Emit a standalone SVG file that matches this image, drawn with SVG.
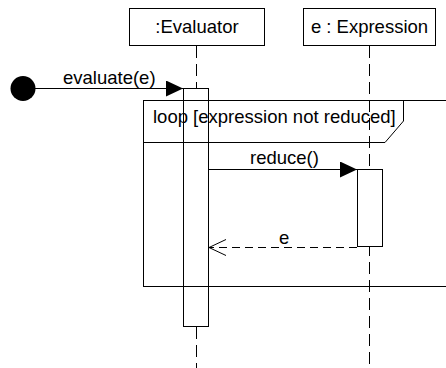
<svg xmlns="http://www.w3.org/2000/svg" width="446" height="368" viewBox="0 0 446 368">
<defs>
<style>
.box{fill:#fff;stroke:#000;stroke-width:1}
.act{fill:none;stroke:#000;stroke-width:1}
.txt{font-family:"Liberation Sans",Arial,sans-serif;font-size:18.5px;fill:#000}
.life{stroke:#000;stroke-width:1;stroke-dasharray:12,6;fill:none}
.msg{stroke:#000;stroke-width:1;fill:none}
.ret{stroke:#000;stroke-width:1;stroke-dasharray:8,5;fill:none}
</style>
<marker id="filled" markerWidth="18" markerHeight="16" refX="17" refY="8" orient="auto" markerUnits="userSpaceOnUse">
<path d="M0,0 L17,8 L0,16 Z" fill="#000"/>
</marker>
<marker id="open" markerWidth="20" markerHeight="20" refX="18" refY="9" orient="auto" markerUnits="userSpaceOnUse">
<path d="M1,1 L18,9 L1,17" fill="none" stroke="#000" stroke-width="1"/>
</marker>
</defs>
<g id="lifelines">
<line class="life" x1="196.5" y1="46" x2="196.5" y2="88"/>
<line class="life" x1="196.5" y1="327" x2="196.5" y2="368"/>
<line class="life" x1="369.5" y1="46" x2="369.5" y2="368"/>
</g>
<g id="evaluator">
<rect class="box" x="129.5" y="8.5" width="135" height="37"/>
<text class="txt" x="197" y="33" text-anchor="middle">:Evaluator</text>
</g>
<g id="expression">
<rect class="box" x="303.5" y="8.5" width="132" height="37"/>
<text class="txt" x="369.5" y="33" text-anchor="middle">e : Expression</text>
</g>
<g id="loop">
<rect x="143.5" y="100.5" width="320" height="186" fill="none" stroke="#000" stroke-width="1"/>
<path d="M143.5,142.5 L385,142.5 L403.5,121 L403.5,100.5" fill="none" stroke="#000" stroke-width="1"/>
<text class="txt" x="153" y="123">loop [expression not reduced]</text>
</g>
<g id="start">
<circle cx="23" cy="88.5" r="12.5" fill="#000"/>
</g>
<g id="activation-evaluator">
<rect class="act" x="183.5" y="88.5" width="25" height="238"/>
</g>
<g id="activation-expression">
<rect class="box" x="357.5" y="169.5" width="25" height="77"/>
</g>
<g id="connectors">
<line class="msg" x1="35" y1="88.5" x2="183" y2="88.5" marker-end="url(#filled)"/>
<text class="txt" x="63" y="84">evaluate(e)</text>
<line class="msg" x1="209" y1="169.5" x2="357" y2="169.5" marker-end="url(#filled)"/>
<text class="txt" x="250" y="164">reduce()</text>
<line class="ret" x1="357" y1="247.5" x2="209" y2="247.5" marker-end="url(#open)"/>
<text class="txt" x="279" y="244">e</text>
</g>
</svg>
